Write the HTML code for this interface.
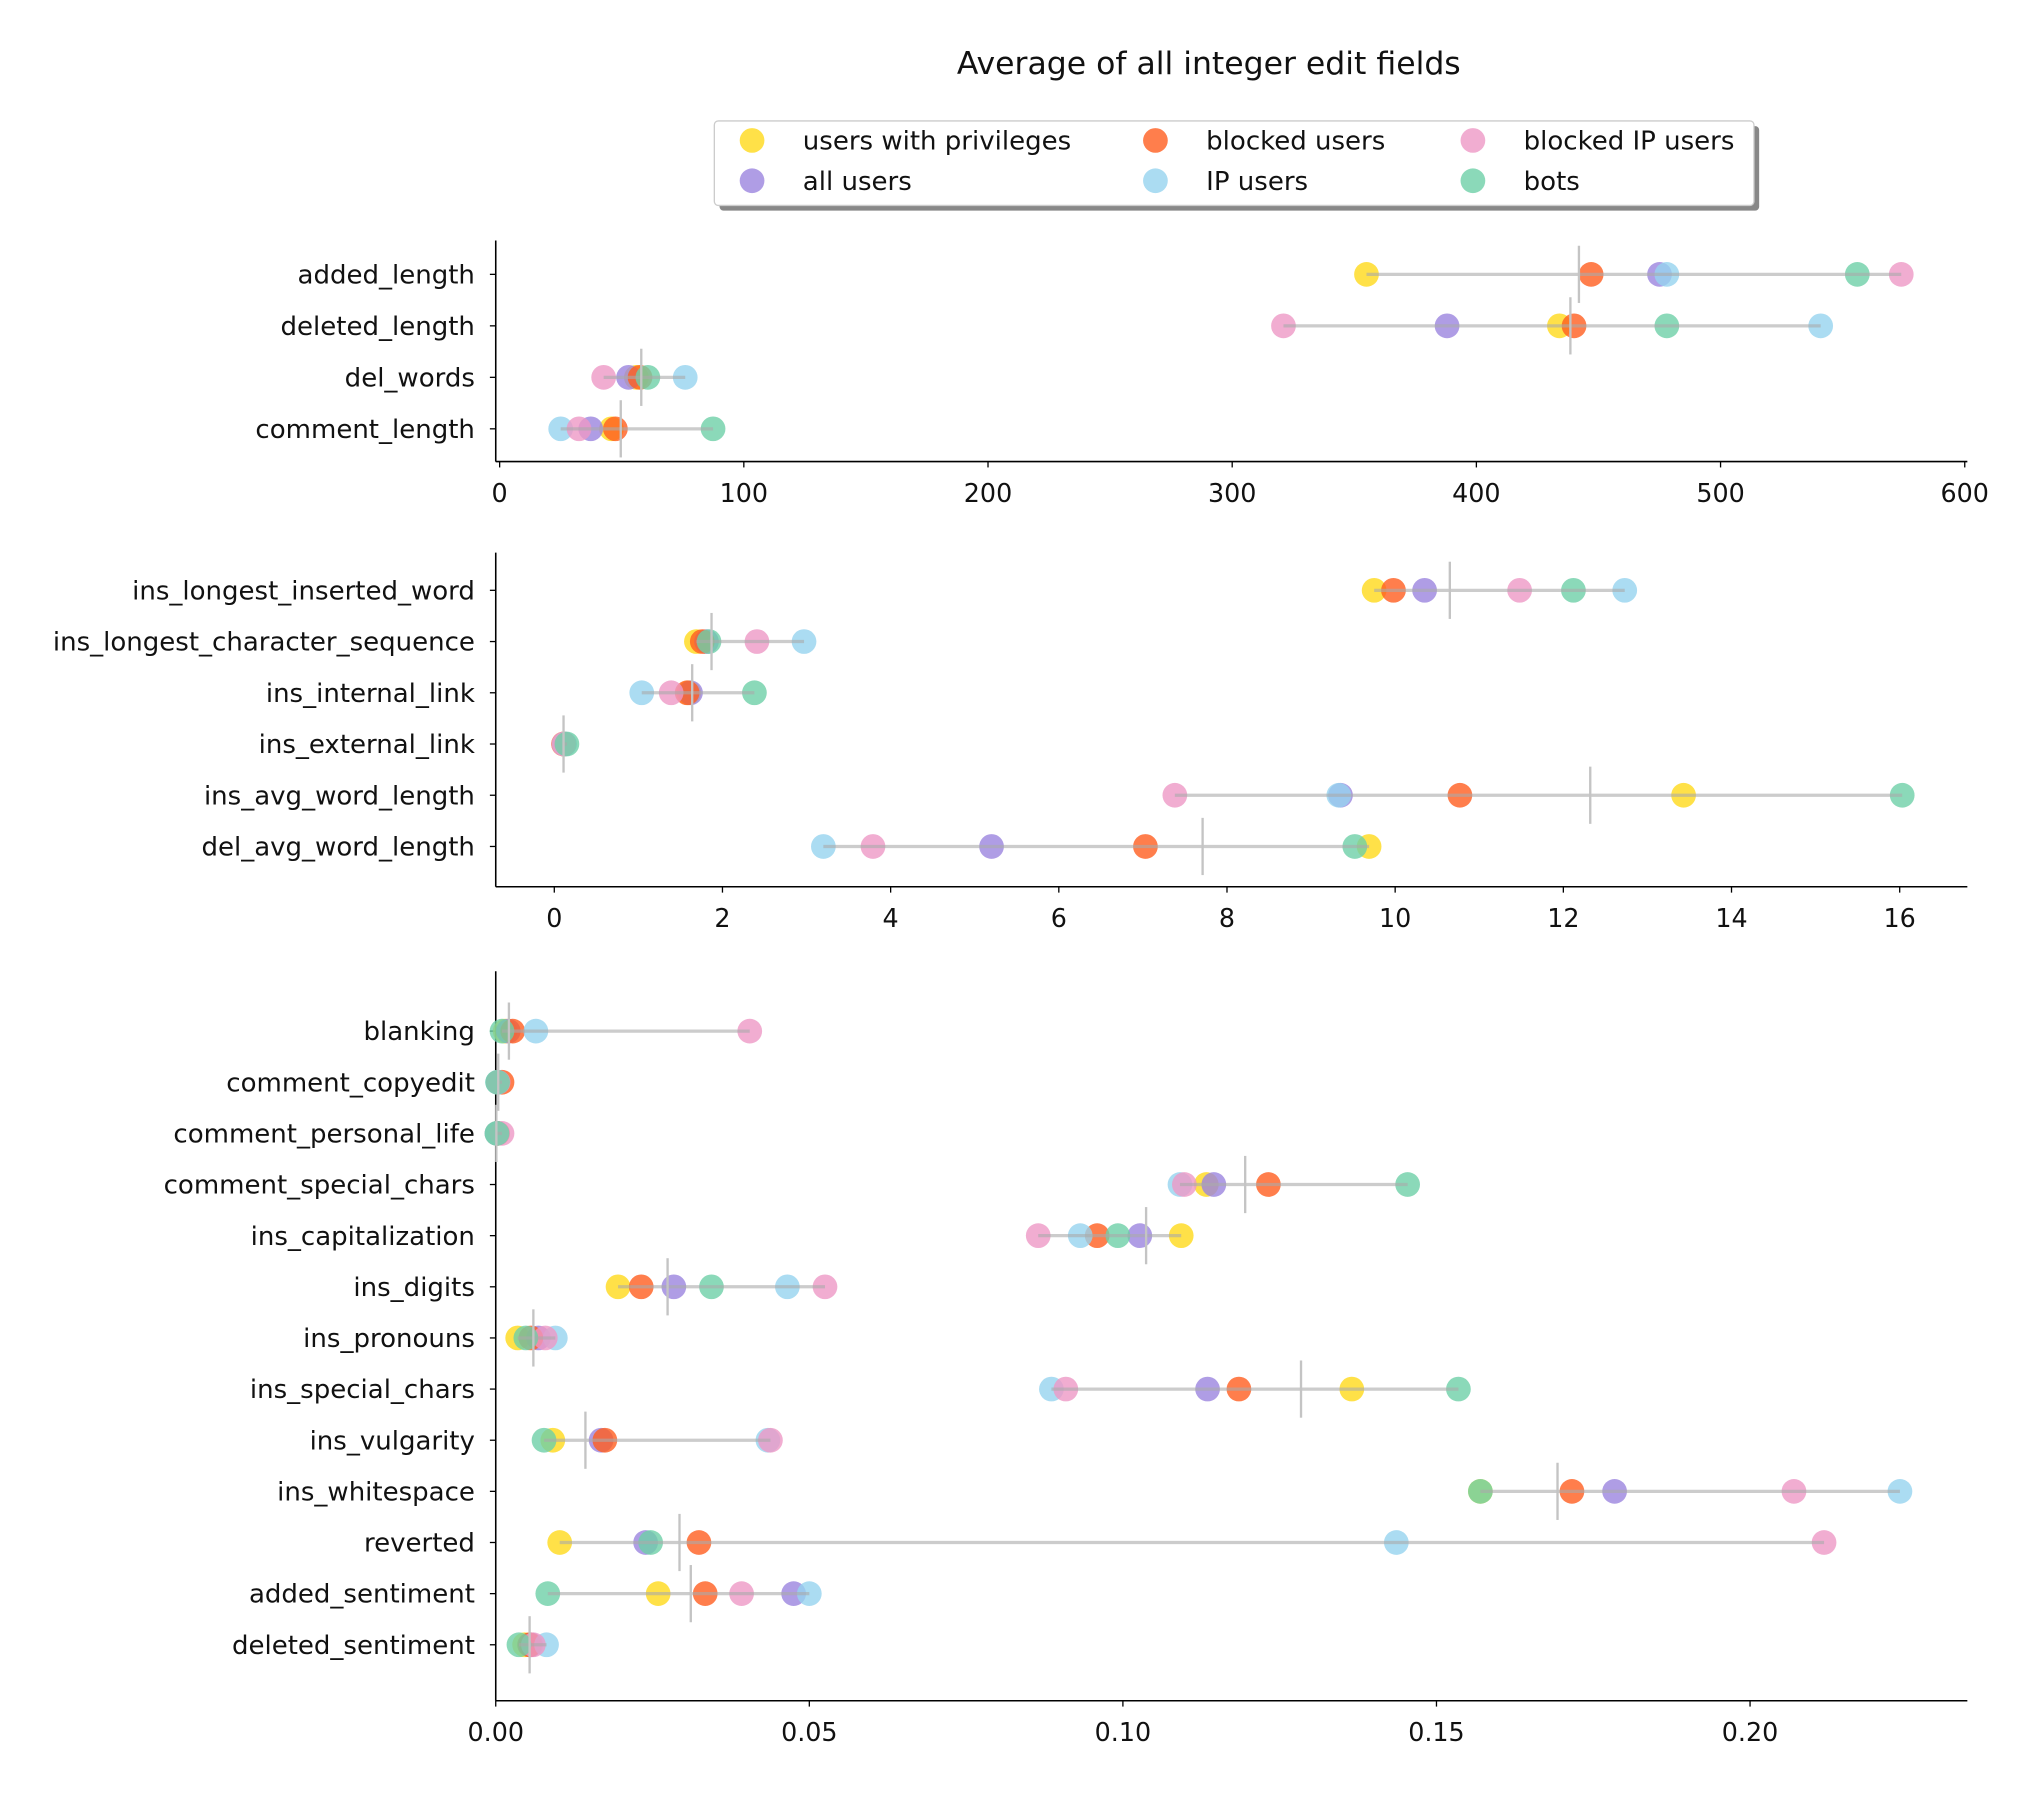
<!DOCTYPE html>
<html><head><meta charset="utf-8"><style>
html,body{margin:0;padding:0;background:#fff;}
svg{display:block;font-family:"DejaVu Sans","Liberation Sans",sans-serif;}
</style></head><body>
<svg id="chart" width="2038" height="1798" viewBox="0 0 1566.3 1382.8" preserveAspectRatio="none" xmlns="http://www.w3.org/2000/svg">
<rect x="0" y="0" width="1566.3" height="1382.8" fill="#fff"/>
<text x="929" y="57" font-size="24.2" text-anchor="middle" fill="#111">Average of all integer edit fields</text>
<g>
<rect x="553" y="97" width="799" height="65" rx="3" fill="#888"/>
<rect x="549" y="93" width="799" height="65" rx="3" fill="#fff" stroke="#ccc" stroke-width="1"/>
</g>
</svg>
<script>
const seriesNames = ["users with privileges","all users","blocked users","IP users","blocked IP users","bots"];
const seriesColors = ["#FFD91A","#9B84DE","#FF5E1F","#96D3EF","#EE98C6","#6ECFA8"];

const p1Cats = ["added_length","deleted_length","del_words","comment_length"];
const p1Priv = [355,434,56,45.8];
const p1All = [475,388,52.8,37.3];
const p1Blocked = [447,440,57.5,47.4];
const p1IP = [478,541,76,25];
const p1BlockedIP = [574,321,42.6,32.5];
const p1Bots = [556,478,60.7,87.4];
const p1Mean = [442,438.5,58,49.6];
const p1Ticks = [0,100,200,300,400,500,600];

const p2Cats = ["ins_longest_inserted_word","ins_longest_character_sequence","ins_internal_link","ins_external_link","ins_avg_word_length","del_avg_word_length"];
const p2Priv = [9.75,1.69,1.6,0.11,13.43,9.69];
const p2All = [10.35,1.81,1.62,0.12,9.35,5.2];
const p2Blocked = [9.98,1.76,1.58,0.11,10.77,7.03];
const p2IP = [12.73,2.97,1.04,0.12,9.33,3.2];
const p2BlockedIP = [11.48,2.41,1.39,0.11,7.38,3.79];
const p2Bots = [12.12,1.84,2.38,0.15,16.03,9.52];
const p2Mean = [10.65,1.87,1.64,0.11,12.32,7.71];
const p2Ticks = [0,2,4,6,8,10,12,14,16];

const p3Cats = ["blanking","comment_copyedit","comment_personal_life","comment_special_chars","ins_capitalization","ins_digits","ins_pronouns","ins_special_chars","ins_vulgarity","ins_whitespace","reverted","added_sentiment","deleted_sentiment"];
const p3Priv = [0.0015,0.0004,0.0002,0.1133,0.1093,0.0195,0.0035,0.1365,0.0091,0.157,0.0102,0.0259,0.0046];
const p3All = [0.002,0.0004,0.0002,0.1145,0.1027,0.0284,0.0068,0.1135,0.0168,0.1784,0.0239,0.0475,0.0056];
const p3Blocked = [0.0027,0.001,0.0003,0.1232,0.0959,0.0232,0.0056,0.1185,0.0174,0.1716,0.0324,0.0334,0.0054];
const p3IP = [0.0064,0.0003,0.0002,0.1091,0.0932,0.0465,0.0095,0.0886,0.0434,0.2239,0.1436,0.05,0.0081];
const p3BlockedIP = [0.0405,0.0004,0.001,0.1098,0.0865,0.0525,0.0079,0.0909,0.0438,0.207,0.2118,0.0392,0.006];
const p3Bots = [0.001,0.0003,0.0002,0.1454,0.0992,0.0344,0.0048,0.1535,0.0077,0.157,0.0247,0.0083,0.0037];
const p3Mean = [0.0021,0.0004,0.0001,0.1195,0.1037,0.0274,0.006,0.1284,0.0143,0.1693,0.0293,0.0311,0.0054];
const p3Ticks = [0,0.05,0.1,0.15,0.2];
const p3TickLabels = ["0.00","0.05","0.10","0.15","0.20"];

const NS="http://www.w3.org/2000/svg";
const svg=document.getElementById('chart');
function mk(tag,attrs,parent){const e=document.createElementNS(NS,tag);for(const k in attrs)e.setAttribute(k,attrs[k]);(parent||svg).appendChild(e);return e;}

const legX=[578,888,1132], legY=[108,139];
seriesNames.forEach((n,i)=>{
  const col=Math.floor(i/2), row=i%2;
  const g=mk('g',{});
  
  
  mk('circle',{cx:legX[col],cy:legY[row],r:9.5,fill:seriesColors[i],'fill-opacity':0.8},g);
  const t=mk('text',{x:legX[col]+39,y:legY[row]+7,'font-size':20,fill:'#111'},g);
  t.textContent=n;
});

function panel(name,cats,series,mean,ticks,tickLabels,ax){
  const g=mk('g',{});
  
  
  const X=v=>ax.x0+(v-ax.v0)*ax.k;
  const Y=i=>ax.rows[0]+i*ax.step;
  const ya=mk('line',{x1:ax.left,y1:ax.top,x2:ax.left,y2:ax.bottom,stroke:'#000','stroke-width':1.2},g);
  
  
  const xa=mk('line',{x1:ax.left,y1:ax.bottom,x2:ax.right,y2:ax.bottom,stroke:'#000','stroke-width':1.2},g);
  
  
  ticks.forEach((t,i)=>{
    const x=X(t);
    mk('line',{x1:x,y1:ax.bottom,x2:x,y2:ax.bottom+4.5,stroke:'#000','stroke-width':1},g);
    const tl=mk('text',{x:x,y:ax.bottom+31,'font-size':19.5,'text-anchor':'middle',fill:'#111'},g);
    
    
    tl.textContent=tickLabels?tickLabels[i]:String(t);
  });
  cats.forEach((c,i)=>{
    const y=Y(i);
    mk('line',{x1:ax.left-4.5,y1:y,x2:ax.left,y2:y,stroke:'#000','stroke-width':1},g);
    const tl=mk('text',{x:ax.left-16,y:y+7,'font-size':20,'text-anchor':'end',fill:'#111'},g);
    
    
    tl.textContent=c;
    const vals=series.map(s=>s[i]);
    series.forEach((s,j)=>{
      const p=mk('circle',{cx:X(s[i]),cy:y,r:9.5,fill:seriesColors[j],'fill-opacity':0.8},g);
      
      
    });
    const rl=mk('line',{x1:X(Math.min(...vals)),y1:y,x2:X(Math.max(...vals)),y2:y,stroke:'#aaa','stroke-width':2.5,'stroke-opacity':0.6},g);
    
    
    const ml=mk('line',{x1:X(mean[i]),y1:y-22,x2:X(mean[i]),y2:y+22,stroke:'#c4c4c4','stroke-width':1.8},g);
    
    
  });
}

panel('panel-integer-lengths',p1Cats,[p1Priv,p1All,p1Blocked,p1IP,p1BlockedIP,p1Bots],p1Mean,p1Ticks,null,
  {x0:384,v0:0,k:(1510-384)/600,left:381,right:1512,top:185,bottom:355,rows:[211],step:39.6});
panel('panel-word-metrics',p2Cats,[p2Priv,p2All,p2Blocked,p2IP,p2BlockedIP,p2Bots],p2Mean,p2Ticks,null,
  {x0:426,v0:0,k:(1460-426)/16,left:381,right:1512,top:425,bottom:682,rows:[454],step:39.4});
panel('panel-ratios',p3Cats,[p3Priv,p3All,p3Blocked,p3IP,p3BlockedIP,p3Bots],p3Mean,p3Ticks,p3TickLabels,
  {x0:381,v0:0,k:(1345-381)/0.2,left:381,right:1512,top:747,bottom:1308,rows:[793],step:39.33});
</script>
</body></html>
